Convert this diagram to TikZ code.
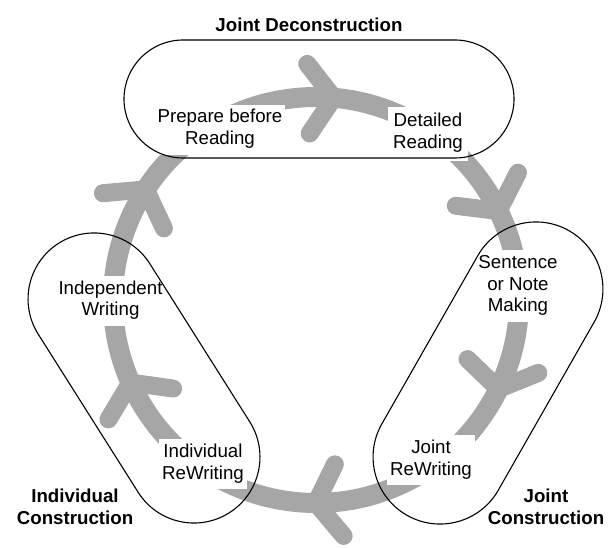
\documentclass[tikz,border=0pt]{standalone}
\usepackage{fontspec}
\setmainfont{Liberation Sans}
\definecolor{arcgray}{RGB}{166,166,166}
\begin{document}
\begin{tikzpicture}[x=1pt,y=1pt,
  cyc/.style={draw=arcgray, line width=20pt},
  barb/.style={draw=arcgray, line width=18pt, line cap=round, line join=round},
  lbl/.style={fill=white, align=center, inner xsep=3pt, inner ysep=3pt, font=\fontsize{18.7}{22}\selectfont},
  head/.style={align=center, inner sep=0pt, font=\fontsize{18.7}{22}\selectfont\bfseries},
  stad/.style={draw=black, line width=1.1pt, rounded corners=#1}]
\useasboundingbox (0,0) rectangle (608,547);
\coordinate (O) at (316,247);
% cycle ring
\draw[cyc] (O) circle[radius=203pt];
% arrow vertices on the ring
\coordinate (v1) at ([shift={(85:203pt)}]O);
\coordinate (v2) at ([shift={(26:203pt)}]O);
\coordinate (v3) at ([shift={(-26:203pt)}]O);
\coordinate (v4) at ([shift={(-90:203pt)}]O);
\coordinate (v5) at ([shift={(-156:203pt)}]O);
\coordinate (v6) at ([shift={(147:203pt)}]O);
% chevron barbs
\draw[barb] ([shift={(128:43pt)}]v1) -- (v1) -- ([shift={(236:43pt)}]v1);
\draw[barb] ([shift={(173:43pt)}]v2) -- (v2) -- ([shift={(63:43pt)}]v2);
\draw[barb] ([shift={(136:43pt)}]v3) -- (v3) -- ([shift={(22:43pt)}]v3);
\draw[barb] ([shift={(64:43pt)}]v4) -- (v4) -- ([shift={(-50:43pt)}]v4);
\draw[barb] ([shift={(352:43pt)}]v5) -- (v5) -- ([shift={(239:43pt)}]v5);
\draw[barb] ([shift={(185:43pt)}]v6) -- (v6) -- ([shift={(295:43pt)}]v6);
% step labels
\node[lbl] (prep) at (220,417.4) {\strut Prepare before\\\strut Reading};
\node[lbl, inner xsep=5pt, inner ysep=5pt] (det) at (428,413.4) {\strut Detailed\\\strut Reading};
\node[lbl] (sent) at (518,261.4) {\strut Sentence\\\strut or Note\\\strut Making};
\node[lbl] (jrw) at (431,87.4) {\strut Joint\\\strut ReWriting};
\node[lbl] (irw) at (203,83.4) {\strut Individual\\\strut ReWriting};
\node[lbl] (indw) at (110.5,246.4) {\strut Independent\\\strut Writing};
% stage outlines
\draw[stad=59pt] (124,389) rectangle (514,507);
\draw[stad=67pt, shift={(488,174)}, rotate=60.3] (-163.75,-67) rectangle (163.75,67);
\draw[stad=66pt, shift={(144,169)}, rotate=-57.7] (-159.5,-66) rectangle (159.5,66);
% stage headings
\node[head] (hjd) at (309,519.4) {\strut Joint Deconstruction};
\node[head] (hjc) at (546,38.4) {\strut Joint\\\strut Construction};
\node[head] (hic) at (75,38.4) {\strut Individual\\\strut Construction};
\end{tikzpicture}
\end{document}
